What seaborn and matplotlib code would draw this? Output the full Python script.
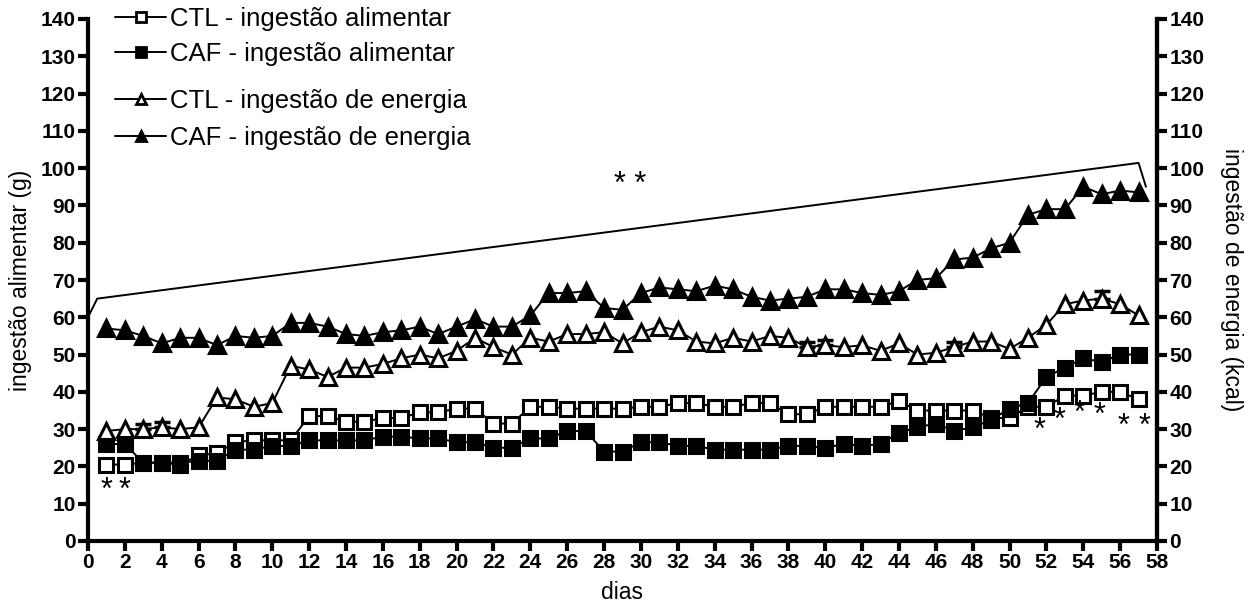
import matplotlib
matplotlib.use("Agg")
import matplotlib.pyplot as plt
import seaborn as sns
import pandas as pd
from matplotlib.lines import Line2D

days = list(range(1, 58))

ctl_food = [20.5, 20.5, 21, 21, 20.5, 23, 23.5, 26.5, 27, 27, 27, 33.5, 33.5, 32, 32, 33, 33,
            34.5, 34.5, 35.5, 35.5, 31.5, 31.5, 36, 36, 35.5, 35.5, 35.5, 35.5, 36, 36, 37, 37,
            36, 36, 37, 37, 34, 34, 36, 36, 36, 36, 37.5, 35, 35, 35, 35, 33, 33, 36, 36, 39,
            39, 40, 40, 38]
caf_food = [26, 26, 21, 21, 21, 21.5, 21.5, 24.5, 24.5, 25.5, 25.5, 27, 27, 27, 27, 28, 28,
            27.5, 27.5, 26.5, 26.5, 25, 25, 27.5, 27.5, 29.5, 29.5, 24, 24, 26.5, 26.5, 25.5,
            25.5, 24.5, 24.5, 24.5, 24.5, 25.5, 25.5, 25, 26, 25.5, 26, 29, 30.5, 31.5, 29.5,
            30.5, 32.5, 35.5, 37, 44, 46.5, 49, 48, 50, 50]
ctl_energy = [29.5, 30, 30, 30.5, 30, 30.5, 38.5, 38, 36, 37, 47, 46, 44, 46.5, 46.5, 47.5, 49,
              50, 49, 51, 54.5, 52, 50, 54.5, 53.5, 55.5, 55.5, 56, 53, 56, 57.5, 56.5, 53.5,
              53, 54.5, 53.5, 55, 54.5, 52, 52.5, 52, 52.5, 51, 53, 50, 50.5, 52, 53.5, 53.5,
              51.5, 54.5, 58, 63.5, 64.5, 65, 63.5, 60.5]
caf_energy = [57, 56.5, 55, 53, 54.5, 54.5, 52.5, 55, 54.5, 55, 58.5, 58.5, 57.5, 55.5, 55, 56,
              56.5, 57.5, 55.5, 57.5, 59.5, 57.5, 57.5, 60.5, 66.5, 66.5, 67, 62.5, 62, 66.5, 68,
              67.5, 67, 68.5, 67.5, 65.5, 64.5, 65, 65.5, 67.5, 67.5, 66.5, 66, 67, 70, 70.5,
              75.5, 76, 78.5, 80, 87.5, 89, 89, 95, 93, 94, 93.5]

# visible (upward) error bars
ctl_energy_err_days = [3, 4, 39, 40, 47, 55]
ctl_energy_err = [1.5, 1.5, 1.5, 1.5, 1.5, 2]
caf_food_err_days = [52, 53, 56, 57]
caf_food_err = [1, 1, 1, 1]

# significance marks
star_low_days = [1, 2]
star_low_y = [13.5, 13.5]
star_right_days = [51.6, 52.7, 53.8, 54.9, 56.2, 57.3]
star_right_y = [29.5, 32.2, 34.2, 33.5, 30.6, 30.6]
bracket_x = [0.0, 0.5, 57.0, 57.4]
bracket_y = [60, 65, 101.4, 95]

labels = ["CTL - ingestão alimentar", "CAF - ingestão alimentar",
          "CTL - ingestão de energia", "CAF - ingestão de energia"]

sns.set_theme(style="ticks")
plt.rcParams['font.family'] = ['Liberation Sans', 'DejaVu Sans']
for k in ['text.color', 'axes.labelcolor', 'xtick.color', 'ytick.color', 'axes.edgecolor']:
    plt.rcParams[k] = 'black'

fig = plt.figure(figsize=(12.48, 6.05), dpi=100)
ax = fig.add_axes([88/1248, 64/605, (1157-88)/1248, (541-19)/605])

series = [
    (ctl_food, 's', 'white'),
    (caf_food, 's', 'black'),
    (ctl_energy, '^', 'white'),
    (caf_energy, '^', 'black'),
]
for vals, mk, fc in series:
    df = pd.DataFrame({"dia": days, "v": vals})
    sns.lineplot(data=df, x="dia", y="v", ax=ax, color='black', lw=1.4,
                 marker=mk, markersize=10 if mk == 's' else 11,
                 markerfacecolor=fc, markeredgecolor='black', markeredgewidth=2.2,
                 zorder=3)

def errs(days_l, vals_all, e):
    ys = [vals_all[d - 1] for d in days_l]
    ax.errorbar(days_l, ys, yerr=[[0]*len(e), e], fmt='none', ecolor='black',
                elinewidth=2, capsize=6, capthick=2.5, zorder=2)

errs(ctl_energy_err_days, ctl_energy, ctl_energy_err)
errs(caf_food_err_days, caf_food, caf_food_err)

ax.plot(bracket_x, bracket_y, color='black', lw=1.4, clip_on=False)
ax.text(29.4, 95.5, "* *", ha='center', va='center', fontsize=22)
for x, y in zip(star_low_days, star_low_y):
    ax.text(x, y, "*", ha='center', va='center', fontsize=22)
for x, y in zip(star_right_days, star_right_y):
    ax.text(x, y, "*", ha='center', va='center', fontsize=22, clip_on=False)

ax.set_xlim(0, 58)
ax.set_ylim(0, 140)
ax.set_xticks(range(0, 59, 2))
ax.set_yticks(range(0, 141, 10))
ax.set_xlabel("dias", fontsize=16.5, labelpad=6)
ax.set_ylabel("ingestão alimentar (g)", fontsize=16.5, labelpad=6)
for lab in ax.get_xticklabels() + ax.get_yticklabels():
    lab.set_fontweight('bold')
    lab.set_fontsize(15)
ax.tick_params(axis='both', direction='out', length=7, width=3, pad=2, color='black')
for s in ['left', 'bottom']:
    ax.spines[s].set_linewidth(3)
ax.spines['top'].set_visible(False)
ax.spines['right'].set_linewidth(3)

ax2 = ax.twinx()
ax2.set_ylim(0, 140)
ax2.set_yticks(range(0, 141, 10))
ax2.set_ylabel("ingestão de energia (kcal)", fontsize=16.5, rotation=270, labelpad=28)
for lab in ax2.get_yticklabels():
    lab.set_fontweight('bold')
    lab.set_fontsize(15)
ax2.tick_params(axis='y', direction='out', length=7, width=3, pad=2)
ax2.spines['right'].set_linewidth(3)
ax2.spines['top'].set_visible(False)
ax2.spines['left'].set_visible(False)
ax2.spines['bottom'].set_visible(False)

def handle(mk, fc):
    return Line2D([], [], color='black', lw=1.4, marker=mk, markersize=7,
                  markerfacecolor=fc, markeredgecolor='black', markeredgewidth=2)

leg_kw = dict(loc='upper left', frameon=False, fontsize=18.5, handlelength=2.0,
              handletextpad=0.15, borderpad=0, borderaxespad=0)
leg1 = ax.legend([handle('s', 'white'), handle('s', 'black')], labels[:2],
                 bbox_to_anchor=(0.0253, 1.023), labelspacing=0.44, **leg_kw)
ax.add_artist(leg1)
ax.legend([handle('^', 'white'), handle('^', 'black')], labels[2:],
          bbox_to_anchor=(0.0253, 0.866), labelspacing=0.52, **leg_kw)

fig.savefig("out.png", dpi=100)
